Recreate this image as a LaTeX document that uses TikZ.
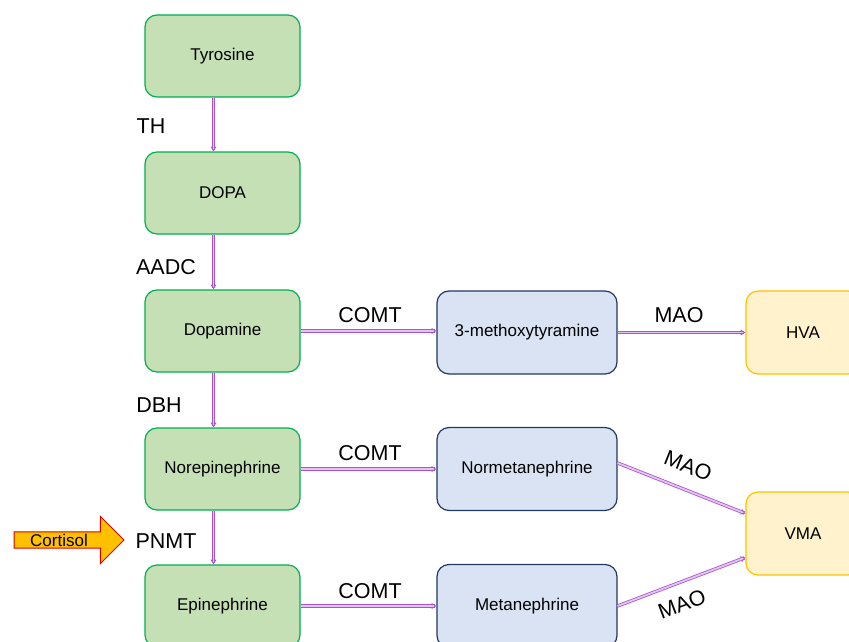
\documentclass[tikz,border=0pt]{standalone}
\usepackage{fontspec}
\setmainfont{Liberation Sans}
\usetikzlibrary{arrows.meta,shapes.arrows}

\definecolor{grnfill}{HTML}{C5E0B4}
\definecolor{grnline}{HTML}{00B050}
\definecolor{bluefill}{HTML}{DAE3F3}
\definecolor{blueline}{HTML}{203864}
\definecolor{yelfill}{HTML}{FFF2CC}
\definecolor{yelline}{HTML}{FFC000}
\definecolor{purpline}{HTML}{A855CC}
\definecolor{purpfill}{HTML}{E3C4F2}
\definecolor{cortfill}{HTML}{FFC000}

\tikzset{
  box/.style={rounded corners=12pt, minimum width=155pt, minimum height=82pt,
    line width=1.2pt, font=\fontsize{17}{19}\selectfont},
  subst/.style={box, draw=grnline, fill=grnfill},
  metab/.style={box, draw=blueline, fill=bluefill, minimum width=180pt, minimum height=83pt},
  endprod/.style={box, draw=yelline, fill=yelfill, minimum width=114pt, minimum height=83pt},
  enz/.style={font=\fontsize{21.5}{23}\selectfont, inner sep=0pt},
  conv/.style={draw=purpline, double=purpfill, double distance=1.8pt, line width=0.8pt,
    -{Straight Barb[length=4pt,width=5pt]}},
}

\begin{document}
\begin{tikzpicture}[x=1pt,y=-1pt]
  \useasboundingbox (0,0) rectangle (849,642);
  % main chain
  \node[subst] (tyr) at (222.5,56) {Tyrosine};
  \node[subst] (dopa) at (222.5,193) {DOPA};
  \node[subst] (dopamine) at (222.5,331) {Dopamine};
  \node[subst] (norepi) at (222.5,469) {Norepinephrine};
  \node[subst] (epi) at (222.5,606) {Epinephrine};
  % O-methylated
  \node[metab] (mty) at (527,332.5) {3-methoxytyramine};
  \node[metab] (normet) at (527,469) {Normetanephrine};
  \node[metab] (met) at (527,606) {Metanephrine};
  % end products
  \node[endprod] (hva) at (803,332.5) {HVA};
  \node[endprod] (vma) at (803,533.5) {VMA};

  \draw[conv] ([xshift=-9pt]tyr.south) -- ([xshift=-9pt]dopa.north);
  \draw[conv] ([xshift=-9pt]dopa.south) -- ([xshift=-9pt]dopamine.north);
  \draw[conv] ([xshift=-9pt]dopamine.south) -- ([xshift=-9pt]norepi.north);
  \draw[conv] ([xshift=-9pt]norepi.south) -- ([xshift=-9pt]epi.north);
  \draw[conv] (dopamine.east) -- (dopamine.east -| mty.west);
  \draw[conv] (norepi.east) -- (normet.west);
  \draw[conv] (epi.east) -- (met.west);
  \draw[conv] (mty.east) -- (mty.east -| hva.west);
  \draw[conv] ([yshift=6pt]normet.east) -- ([yshift=20pt]vma.west);
  \draw[conv] (met.east) -- ([yshift=-24pt]vma.west);

  % enzymes
  \node[enz] (th) at (151,126) {TH};
  \node[enz] (aadc) at (166,267) {AADC};
  \node[enz] (dbh) at (159,405) {DBH};
  \node[enz] (pnmt) at (166,541) {PNMT};
  \node[enz] (comta) at (370,315) {COMT};
  \node[enz] (comtb) at (370,453) {COMT};
  \node[enz] (comtc) at (370,591) {COMT};
  \node[enz] (maoa) at (679,315) {MAO};
  \node[enz, rotate=-21.5] (maob) at (688,466) {MAO};
  \node[enz, rotate=20.7] (maoc) at (682,604) {MAO};

  \node[single arrow, draw=red!85!black, fill=cortfill, line width=0.9pt,
    single arrow head extend=15.5pt, inner xsep=0pt, inner ysep=1.5pt,
    minimum height=110pt, font=\fontsize{17}{18}\selectfont]
    (cortisol) at (65,540) {\hspace*{-12pt}Cortisol};
\end{tikzpicture}
\end{document}
